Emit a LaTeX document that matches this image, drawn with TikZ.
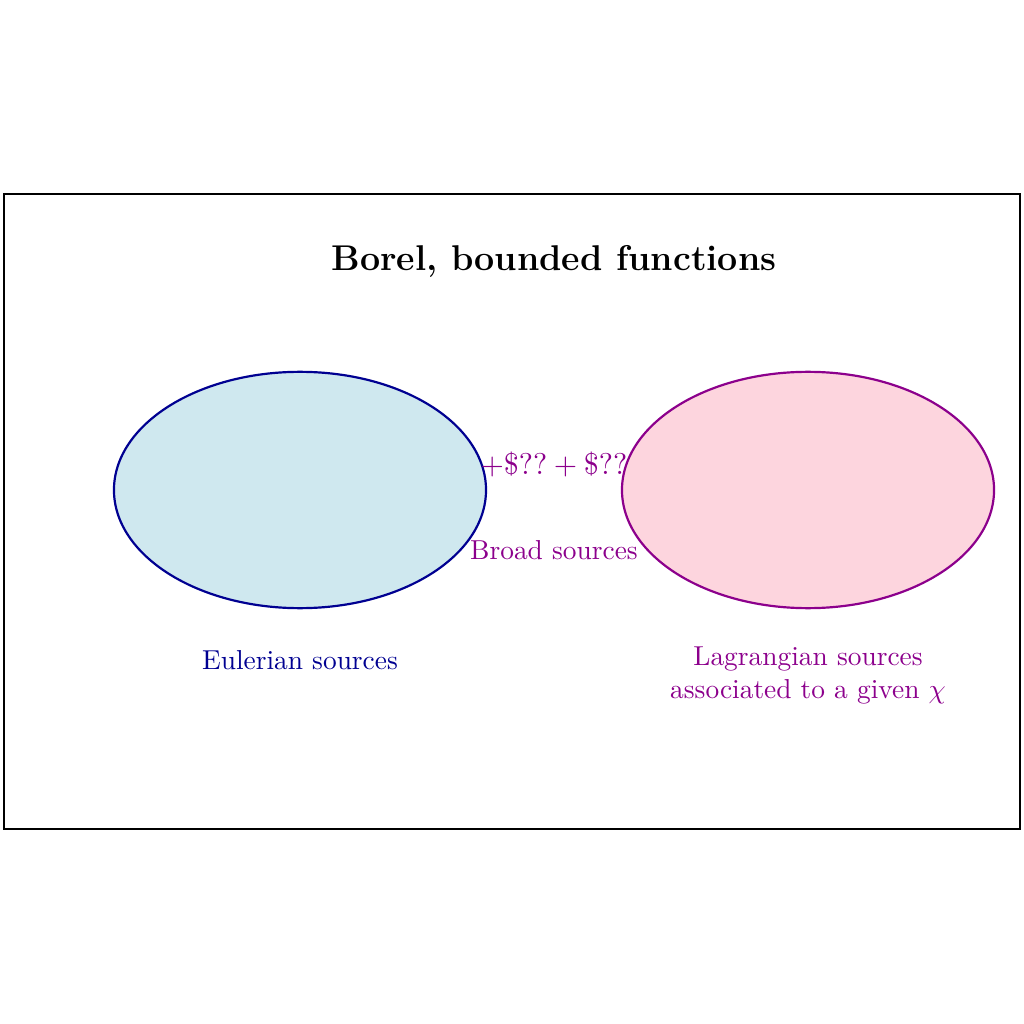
\documentclass[tikz,border=0pt]{standalone}
\usepackage{amsmath,amssymb}
\usepackage{tikz}
\usetikzlibrary{shapes.geometric}

\definecolor{eulerfill}{RGB}{207,232,239}
\definecolor{eulerline}{RGB}{0,0,145}
\definecolor{lagfill}{RGB}{253,213,222}
\definecolor{lagline}{RGB}{140,0,140}

\begin{document}
\begin{tikzpicture}[
  every node/.style={inner sep=1pt},
  setbox/.style={ellipse, thick, minimum width=4.77cm, minimum height=3.03cm}
]
  \useasboundingbox (-3.846,-6.846) rectangle (9.282,6.282);
  \draw[semithick] (-3.795,-4.346) rectangle (9.23,3.795);
  \node[font=\fontsize{13.06}{16}\selectfont\bfseries] (title) at (3.256, 2.93) {Borel, bounded functions};
  \node[setbox, draw=eulerline, fill=eulerfill] (euler) at (0,   0) {};
  \node[setbox, draw=lagline,   fill=lagfill]   (lag)   at (6.513, 0) {};
  \node[text=lagline, font=\fontsize{10.83}{13}\selectfont] (mid) at (3.256, 0.333) {$+\$??+\$??$};
  \node[text=lagline] (broad) at (3.256, -0.77) {Broad sources};
  \node[text=eulerline] (eulab) at (0, -2.18) {Eulerian sources};
  \node[text=lagline, align=center] (laglab) at (6.513, -2.38)
    {Lagrangian sources\\associated to a given $\chi$};
\end{tikzpicture}
\end{document}
